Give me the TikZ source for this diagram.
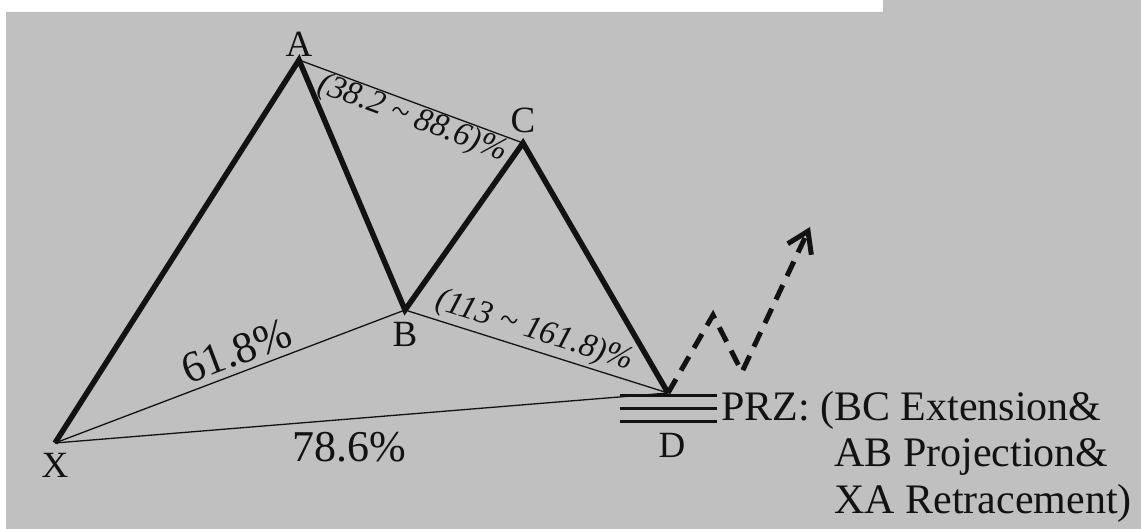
\documentclass[tikz,border=0pt]{standalone}
\usepackage{fontspec}
\setmainfont{Liberation Serif}
\usetikzlibrary{arrows.meta,positioning}
\definecolor{panelgray}{RGB}{192,192,192}
\definecolor{inkblack}{RGB}{18,18,18}

\begin{document}
\begin{tikzpicture}[x=1pt, y=-1pt,
  every node/.style={inner sep=0pt, text=inkblack},
  leg/.style={draw=inkblack, line width=5.5pt},
  guide/.style={draw=inkblack, line width=1.3pt},
  zone/.style={draw=inkblack, line width=3pt},
  forecast/.style={draw=inkblack, line width=5pt, dash pattern=on 16pt off 10pt,
    -{Straight Barb[length=20pt,width=26pt]}},
  pt/.style={font=\fontsize{37}{40}\selectfont},
  ratio/.style={font=\fontsize{44}{48}\selectfont},
  band/.style={font=\itshape\fontsize{33}{36}\selectfont}]
\useasboundingbox (0,0) rectangle (1141,529);
\fill[white] (0,0) rectangle (1141,529);
\fill[panelgray] (6,12) -- (883,12) -- (883,0) -- (1141,0) -- (1141,529) -- (6,529) -- cycle;

\coordinate (X) at (55,443);
\coordinate (A) at (299,60);
\coordinate (B) at (405,310);
\coordinate (C) at (523,143);
\coordinate (D) at (668,393);
\coordinate (up) at (713,315);
\coordinate (dip) at (742,372);
\coordinate (tgt) at (810,227);

% ratio guides
\draw[guide] (X) -- node[ratio, sloped, above=6pt, pos=0.54] (xblab) {61.8\%} (B);
\draw[guide] (X) -- node[ratio, below=13pt, pos=0.48] (xdlab) {78.6\%} (D);
\draw[guide] (A) -- node[band, sloped, below=0pt, pos=0.53] (aclab) {(38.2 \textasciitilde{} 88.6)\%} (C);
\draw[guide] (B) -- node[band, sloped, above=3pt, pos=0.47] (bdlab) {(113 \textasciitilde{} 161.8)\%} (D);

% pattern legs and expected move
\draw[leg] (X) -- (A) -- (B) -- (C) -- (D);
\draw[forecast] (D) -- (up) -- (dip) -- (tgt);

% reversal zone
\foreach \yy in {395,408,421}
  \draw[zone] (620,\yy) -- (717,\yy);
\coordinate (zmid) at (668,421);

\node[pt, above=3pt of A] (labA) {A};
\node[pt, below=12pt of B] (labB) {B};
\node[pt, above=10pt of C] (labC) {C};
\node[pt, below=10pt of X] (labX) {X};
\node[pt, below=12pt of zmid, xshift=4pt] (labD) {D};

\node[anchor=north west, align=left, font=\fontsize{42}{46.5}\selectfont] (prz) at (721,391)
  {PRZ: (BC Extension\&\\ \hphantom{PRZ: (}AB Projection\&\\ \hphantom{PRZ: (}XA Retracement)};
\end{tikzpicture}
\end{document}
